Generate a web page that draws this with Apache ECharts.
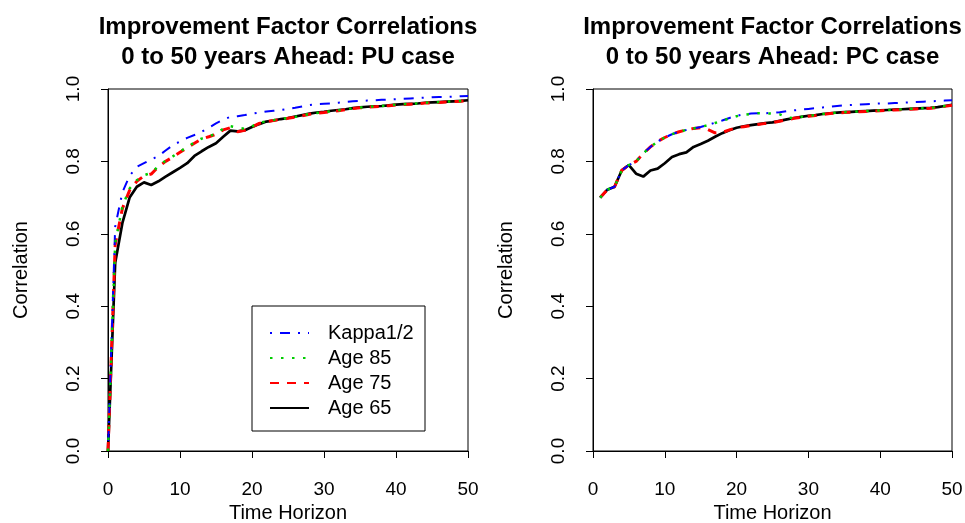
<!DOCTYPE html>
<html>
<head>
<meta charset="utf-8">
<script src="https://cdn.jsdelivr.net/npm/echarts@6/dist/echarts.min.js"></script>
<style>
html,body{margin:0;padding:0;background:#fff;}
#chart{width:965px;height:523px;}
</style>
</head>
<body>
<div id="chart"></div>
<script>
// ---- Data ----
const seriesNames = ['Kappa1/2', 'Age 85', 'Age 75', 'Age 65'];
const xTicks = [0, 10, 20, 30, 40, 50];
const yTicks = [0, 0.2, 0.4, 0.6, 0.8, 1.0];

// Left panel (PU case), horizon 0..50
const horizonPU = [0,1,2,3,4,5,6,7,8,9,10,11,12,13,14,15,16,17,18,19,20,21,22,23,24,25,26,27,28,29,30,31,32,33,34,35,36,37,38,39,40,41,42,43,44,45,46,47,48,49,50];
const puKappa = [0,0.62,0.715,0.76,0.785,0.795,0.805,0.815,0.83,0.845,0.855,0.865,0.873,0.882,0.893,0.905,0.915,0.923,0.925,0.928,0.932,0.935,0.938,0.94,0.942,0.945,0.948,0.952,0.956,0.958,0.959,0.96,0.962,0.964,0.966,0.967,0.968,0.969,0.97,0.971,0.972,0.973,0.974,0.975,0.976,0.977,0.978,0.978,0.979,0.98,0.981];
const puAge85 = [0,0.575,0.675,0.725,0.748,0.762,0.768,0.787,0.802,0.814,0.827,0.84,0.852,0.863,0.869,0.877,0.89,0.897,0.893,0.89,0.897,0.906,0.911,0.914,0.917,0.92,0.923,0.927,0.931,0.934,0.936,0.939,0.941,0.944,0.947,0.949,0.951,0.952,0.953,0.955,0.957,0.958,0.959,0.96,0.962,0.963,0.964,0.965,0.966,0.967,0.969];
const puAge75 = [0,0.57,0.67,0.72,0.745,0.76,0.765,0.785,0.8,0.812,0.825,0.838,0.85,0.862,0.868,0.875,0.887,0.893,0.882,0.886,0.895,0.905,0.91,0.913,0.916,0.919,0.922,0.926,0.93,0.933,0.935,0.938,0.94,0.943,0.946,0.948,0.95,0.951,0.952,0.954,0.956,0.957,0.958,0.959,0.961,0.962,0.963,0.964,0.965,0.966,0.968];
const puAge65 = [0,0.52,0.63,0.7,0.73,0.742,0.735,0.745,0.758,0.77,0.782,0.795,0.815,0.828,0.84,0.85,0.868,0.885,0.883,0.886,0.895,0.903,0.91,0.913,0.917,0.92,0.924,0.928,0.932,0.935,0.937,0.94,0.942,0.944,0.947,0.949,0.951,0.952,0.953,0.955,0.957,0.958,0.959,0.96,0.962,0.963,0.964,0.965,0.966,0.967,0.969];

// Right panel (PC case), horizon 1..50
const horizonPC = [1,2,3,4,5,6,7,8,9,10,11,12,13,14,15,16,17,18,19,20,21,22,23,24,25,26,27,28,29,30,31,32,33,34,35,36,37,38,39,40,41,42,43,44,45,46,47,48,49,50];
const pcKappa = [0.7,0.722,0.73,0.775,0.79,0.8,0.822,0.84,0.855,0.866,0.875,0.882,0.887,0.891,0.895,0.901,0.907,0.913,0.92,0.926,0.93,0.932,0.933,0.933,0.934,0.936,0.939,0.941,0.943,0.945,0.947,0.949,0.951,0.953,0.955,0.956,0.957,0.958,0.959,0.96,0.96,0.961,0.962,0.963,0.964,0.965,0.966,0.967,0.968,0.969];
const pcAge85 = [0.7,0.722,0.73,0.775,0.79,0.8,0.822,0.84,0.855,0.866,0.875,0.882,0.887,0.891,0.895,0.9,0.906,0.912,0.919,0.925,0.929,0.931,0.933,0.933,0.932,0.93,0.922,0.919,0.923,0.926,0.928,0.931,0.933,0.935,0.936,0.937,0.938,0.939,0.94,0.941,0.942,0.943,0.944,0.945,0.946,0.947,0.948,0.95,0.953,0.956];
const pcAge75 = [0.7,0.722,0.73,0.775,0.79,0.8,0.822,0.84,0.855,0.866,0.875,0.882,0.887,0.891,0.893,0.888,0.879,0.88,0.887,0.893,0.896,0.899,0.902,0.905,0.907,0.911,0.915,0.919,0.922,0.925,0.927,0.93,0.932,0.934,0.935,0.936,0.937,0.938,0.939,0.94,0.941,0.942,0.943,0.944,0.945,0.946,0.947,0.949,0.952,0.955];
const pcAge65 = [0.7,0.722,0.73,0.775,0.79,0.766,0.758,0.775,0.78,0.795,0.812,0.82,0.825,0.84,0.848,0.857,0.868,0.878,0.886,0.893,0.897,0.9,0.903,0.906,0.908,0.912,0.916,0.92,0.923,0.926,0.928,0.931,0.933,0.935,0.936,0.937,0.938,0.939,0.94,0.941,0.942,0.943,0.944,0.945,0.946,0.947,0.948,0.95,0.953,0.956];

const titlesText = [
  'Improvement Factor Correlations\n0 to 50 years Ahead: PU case',
  'Improvement Factor Correlations\n0 to 50 years Ahead: PC case'
];

// ---- Chart ----
const FONT = '"Liberation Sans", Arial, sans-serif';
const zip = (xs, ys) => xs.map((x, i) => [x, ys[i]]);

const styles = {
  'Kappa1/2': { color: '#0000FF', width: 2, type: [2, 8, 10, 8] },
  'Age 85':   { color: '#00CD00', width: 2.5, type: [2.5, 8.5] },
  'Age 75':   { color: '#FF0000', width: 3, type: [9, 8] },
  'Age 65':   { color: '#000000', width: 2.7, type: 'solid' }
};

function mkSeries(name, idx, xs, ys) {
  const s = styles[name];
  return {
    name: name, type: 'line', xAxisIndex: idx, yAxisIndex: idx,
    data: zip(xs, ys), symbol: 'none', showSymbol: false,
    lineStyle: { color: s.color, width: s.width, type: s.type, cap: 'butt' },
    itemStyle: { color: s.color },
    emphasis: { disabled: true },
    silent: true
  };
}

function xAx(idx) {
  return {
    type: 'value', gridIndex: idx, min: 0, max: 50, interval: 10,
    axisLine: { show: true, onZero: false, lineStyle: { color: '#000', width: 1 } },
    axisTick: { show: true, length: 7, lineStyle: { color: '#000', width: 1 } },
    axisLabel: { fontSize: 19, color: '#000', margin: 29, fontFamily: FONT,
                 formatter: v => xTicks.includes(v) ? String(v) : '' },
    splitLine: { show: false },
    name: 'Time Horizon', nameLocation: 'middle', nameGap: 52,
    nameTextStyle: { fontSize: 20, color: '#000', fontFamily: FONT }
  };
}
function yAx(idx) {
  return {
    type: 'value', gridIndex: idx, min: 0, max: 1, interval: 0.2,
    axisLine: { show: true, onZero: false, lineStyle: { color: '#000', width: 1 } },
    axisTick: { show: true, length: 7, lineStyle: { color: '#000', width: 1 } },
    axisLabel: { fontSize: 19, color: '#000', margin: 25, rotate: 90, fontFamily: FONT,
                 formatter: v => v.toFixed(1) },
    splitLine: { show: false },
    name: 'Correlation', nameLocation: 'middle', nameGap: 77,
    nameTextStyle: { fontSize: 20, color: '#000', fontFamily: FONT }
  };
}

const chart = echarts.init(document.getElementById('chart'), null, { renderer: 'canvas' });
const drawOrder = ['Age 65', 'Age 75', 'Kappa1/2', 'Age 85'];
const puData = { 'Kappa1/2': puKappa, 'Age 85': puAge85, 'Age 75': puAge75, 'Age 65': puAge65 };
const pcData = { 'Kappa1/2': pcKappa, 'Age 85': pcAge85, 'Age 75': pcAge75, 'Age 65': pcAge65 };

const series = [];
drawOrder.forEach(n => series.push(mkSeries(n, 0, horizonPU, puData[n])));
drawOrder.forEach(n => series.push(mkSeries(n, 1, horizonPC, pcData[n])));

chart.setOption({
  animation: false,
  backgroundColor: '#fff',
  textStyle: { fontFamily: FONT },
  grid: [
    { left: 108, top: 89, width: 360, height: 362, show: true, borderColor: '#000', borderWidth: 1, backgroundColor: 'transparent', containLabel: false, outerBoundsMode: 'none' },
    { left: 593, top: 89, width: 359, height: 362, show: true, borderColor: '#000', borderWidth: 1, backgroundColor: 'transparent', containLabel: false, outerBoundsMode: 'none' }
  ],
  xAxis: [xAx(0), xAx(1)],
  yAxis: [yAx(0), yAx(1)],
  legend: {
    data: seriesNames, orient: 'vertical', left: 269, top: 323,
    itemWidth: 39, itemHeight: 14, itemGap: 5, padding: 0,
    selectedMode: false,
    itemStyle: { opacity: 0 },
    textStyle: { fontSize: 20, color: '#000', fontFamily: FONT, padding: [0, 0, 0, 14] }
  },
  graphic: [
    { type: 'rect', shape: { x: 252, y: 306, width: 173, height: 125 }, style: { fill: 'none', stroke: '#000', lineWidth: 1 }, silent: true },
    { type: 'text', x: 288, y: 12.5, style: { text: titlesText[0], font: 'bold 24px ' + FONT, textAlign: 'center', textVerticalAlign: 'top', lineHeight: 30, fill: '#000' }, silent: true },
    { type: 'text', x: 772.5, y: 12.5, style: { text: titlesText[1], font: 'bold 24px ' + FONT, textAlign: 'center', textVerticalAlign: 'top', lineHeight: 30, fill: '#000' }, silent: true }
  ],
  series: series
});
</script>
</body>
</html>
